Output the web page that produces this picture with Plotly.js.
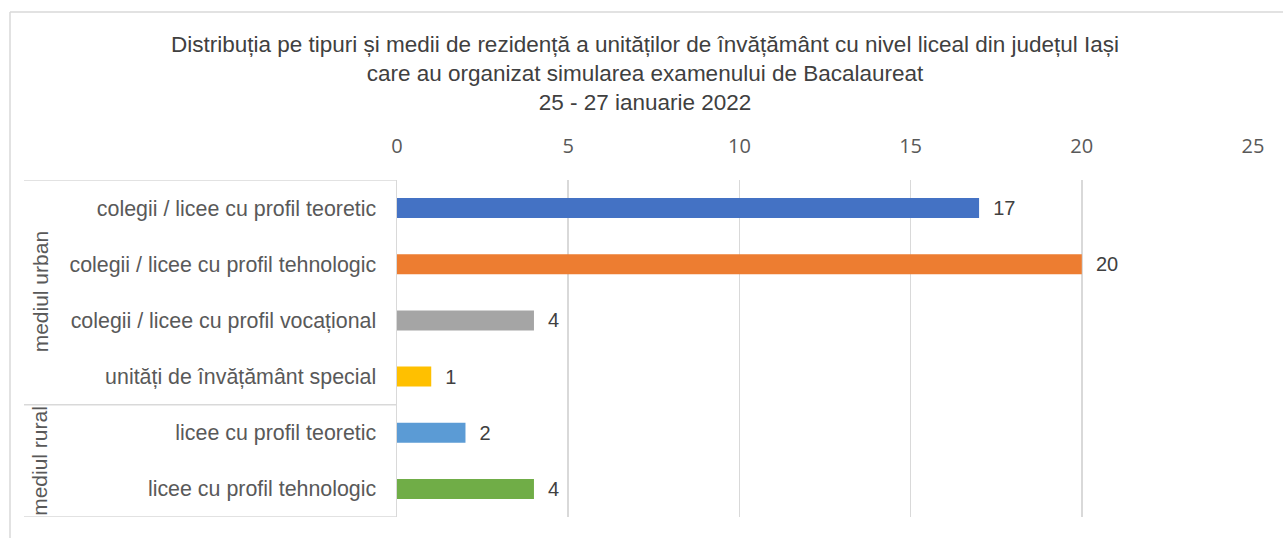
<!DOCTYPE html>
<html>
<head>
<meta charset="utf-8">
<script src="https://cdn.plot.ly/plotly-3.0.1.min.js"></script>
<style>html,body{margin:0;padding:0;background:#fff;}#chart{width:1283px;height:538px;}</style>
</head>
<body>
<div id="chart"></div>
<script>
const categories = [
  "colegii / licee cu profil teoretic",
  "colegii / licee cu profil tehnologic",
  "colegii / licee cu profil vocațional",
  "unități de învățământ special",
  "licee cu profil teoretic",
  "licee cu profil tehnologic"
];
const values = [17, 20, 4, 1, 2, 4];
const barColors = ["#4472C4", "#ED7D31", "#A5A5A5", "#FFC000", "#5B9BD5", "#70AD47"];
const groupLabels = ["mediul urban", "mediul rural"];
const groupSizes = [4, 2];
const xTicks = [0, 5, 10, 15, 20, 25];

const W = 1283, H = 538;
const M = {l: 397, r: 30, t: 180, b: 21};
const PW = W - M.l - M.r, PH = H - M.t - M.b;
const px = v => (v - M.l) / PW;          // pixel x -> paper x
const py = v => 1 - (v - M.t) / PH;      // pixel y -> paper y

const lineCol = "#D9D9D9";
const shapes = [];
const annotations = [];

// group boxes
let start = 0;
const bounds = [-0.5];
groupSizes.forEach(n => { start += n; bounds.push(start - 0.5); });
bounds.forEach(b => {
  shapes.push({type: "line", xref: "paper", yref: "y", x0: px(24), x1: 0, y0: b, y1: b,
    line: {color: lineCol, width: 1.5}});
});
// group labels
groupLabels.forEach((g, i) => {
  annotations.push({text: g, xref: "paper", yref: "y", x: px(40), y: (bounds[i] + bounds[i + 1]) / 2,
    textangle: -90, showarrow: false, xanchor: "center", yanchor: "middle",
    font: {family: "Liberation Sans, Arial, sans-serif", size: 21, color: "#595959"}});
});
// outer chart border
shapes.push({type: "line", xref: "paper", yref: "paper", x0: px(10), x1: px(1300), y0: py(12), y1: py(12),
  line: {color: lineCol, width: 1.5}});
shapes.push({type: "line", xref: "paper", yref: "paper", x0: px(10), x1: px(10), y0: py(12), y1: py(560),
  line: {color: lineCol, width: 1.5}});

const trace = {
  type: "bar",
  orientation: "h",
  y: categories,
  x: values,
  marker: {color: barColors},
  text: values.map(v => "  " + v),
  textposition: "outside",
  constraintext: "none",
  textfont: {family: "Liberation Sans, Arial, sans-serif", size: 20, color: "#404040"},
  cliponaxis: false,
  hoverinfo: "x+y"
};

const layout = {
  width: W, height: H,
  margin: M,
  paper_bgcolor: "#fff", plot_bgcolor: "#fff",
  showlegend: false,
  bargap: 0.645,
  title: {
    text: "Distribuția pe tipuri și medii de rezidență a unităților de învățământ cu nivel liceal din județul Iași<br>care au organizat simularea examenului de Bacalaureat<br>25 - 27 ianuarie 2022",
    xref: "container", x: 645 / W, xanchor: "center",
    yref: "container", y: 1 - 51.5 / H, yanchor: "middle",
    font: {family: "Liberation Sans, Arial, sans-serif", size: 22.5, color: "#404040"}
  },
  xaxis: {
    side: "top",
    range: [0, 25],
    tickvals: xTicks,
    ticktext: xTicks.map(String),
    showgrid: true, gridcolor: lineCol, gridwidth: 1.5,
    zeroline: false, showline: false,
    ticks: "outside", ticklen: 18, tickcolor: "rgba(0,0,0,0)",
    tickfont: {family: "Open Sans, sans-serif", size: 20, color: "#595959"},
    fixedrange: true
  },
  yaxis: {
    type: "category",
    range: [5.5, -0.5],
    showgrid: false, zeroline: false,
    showline: true, linecolor: lineCol, linewidth: 1.5,
    ticks: "outside", ticklen: 15, tickcolor: "rgba(0,0,0,0)",
    tickfont: {family: "Liberation Sans, Arial, sans-serif", size: 21.4, color: "#595959"},
    fixedrange: true
  },
  shapes: shapes,
  annotations: annotations
};

Plotly.newPlot("chart", [trace], layout, {displayModeBar: false, staticPlot: true});
</script>
</body>
</html>
